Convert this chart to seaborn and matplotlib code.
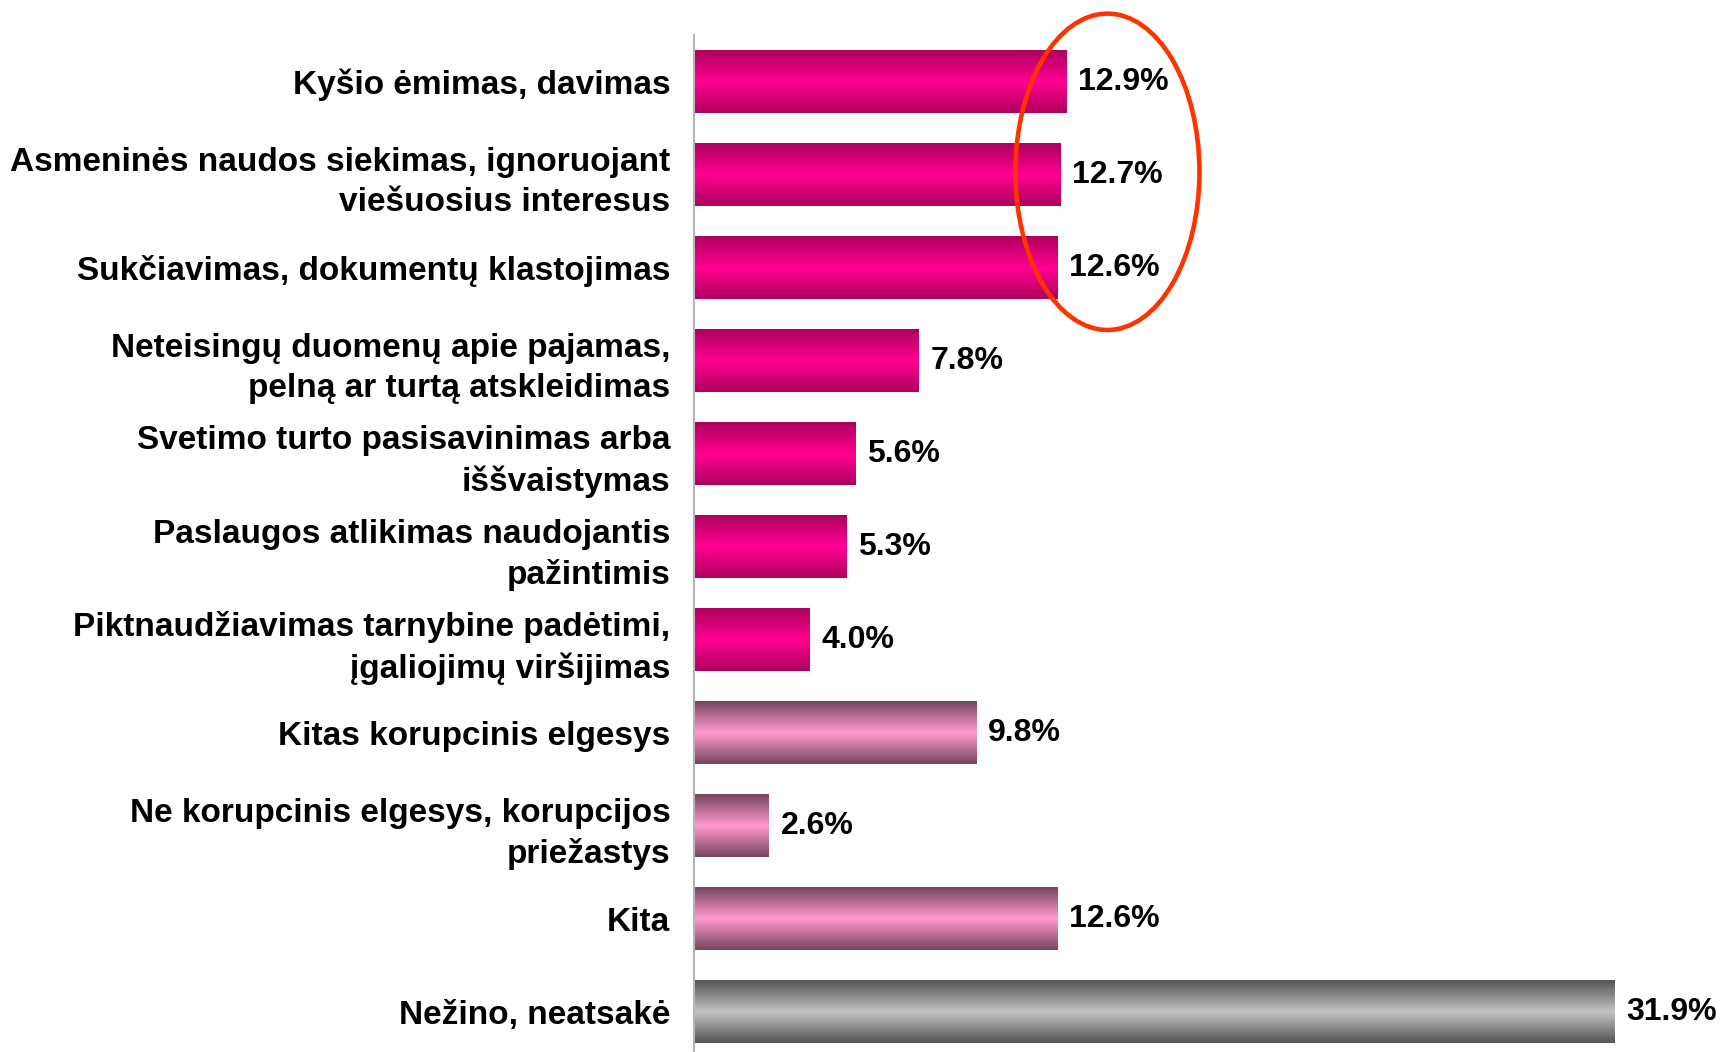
import numpy as np
import pandas as pd
import seaborn as sns
import matplotlib.pyplot as plt
from matplotlib.colors import LinearSegmentedColormap
from matplotlib.patches import Ellipse

categories = [
    "Kyšio ėmimas, davimas",
    "Asmeninės naudos siekimas, ignoruojant\nviešuosius interesus",
    "Sukčiavimas, dokumentų klastojimas",
    "Neteisingų duomenų apie pajamas,\npelną ar turtą atskleidimas",
    "Svetimo turto pasisavinimas arba\niššvaistymas",
    "Paslaugos atlikimas naudojantis\npažintimis",
    "Piktnaudžiavimas tarnybine padėtimi,\nįgaliojimų viršijimas",
    "Kitas korupcinis elgesys",
    "Ne korupcinis elgesys, korupcijos\npriežastys",
    "Kita",
    "Nežino, neatsakė",
]
values = [12.9, 12.7, 12.6, 7.8, 5.6, 5.3, 4.0, 9.8, 2.6, 12.6, 31.9]
groups = ["main"] * 7 + ["other"] * 3 + ["unknown"]

# gradient colours per group: (edge, centre)
grad = {
    "main": ("#AE005E", "#FF0090"),
    "other": ("#77465F", "#FF99CC"),
    "unknown": ("#555555", "#C2C2C2"),
}

sns.set_theme(style="white")
plt.rcParams['font.family'] = ['Liberation Sans', 'DejaVu Sans']

df = pd.DataFrame({"cat": categories, "val": values, "grp": groups})

fig = plt.figure(figsize=(17.21, 10.52), dpi=100)
ax = fig.add_axes([0.4033, 0.0, 0.5967, 0.9667])

sns.barplot(data=df, x="val", y="cat", orient="h", width=0.667,
            color="#FF0090", ax=ax, saturation=1)

ramp = np.concatenate([np.linspace(0, 1, 64), np.linspace(1, 0, 64)]).reshape(-1, 1)
for p, g, v in zip(ax.patches, groups, values):
    x0, y0 = p.get_x(), p.get_y()
    w, h = p.get_width(), p.get_height()
    cmap = LinearSegmentedColormap.from_list(g, list(grad[g]))
    ax.imshow(ramp, cmap=cmap, aspect="auto", interpolation="bilinear",
              extent=[x0, x0 + w, y0 + h, y0], zorder=2)
    p.set_visible(False)
    ax.text(x0 + w + 0.4, y0 + h / 2, f"{v:.1f}%", va="center", ha="left",
            fontsize=23, fontweight="bold", color="black")

ax.set_xlim(0, 35.6)
ax.set_ylim(10.43, -0.5)
ax.set_xlabel("")
ax.set_ylabel("")
ax.set_xticks([])
ax.tick_params(axis="y", length=0, pad=17, labelsize=24, labelcolor="black")
for lab in ax.get_yticklabels():
    lab.set_fontweight("bold")
    lab.set_linespacing(1.37)

for s in ["top", "right", "bottom"]:
    ax.spines[s].set_visible(False)
ax.spines["left"].set_color("#B4B4B4")
ax.spines["left"].set_linewidth(1.5)

# red ellipse highlighting the top three
ax.add_patch(Ellipse((14.33, 0.97), 6.38, 3.40, fill=False,
                     edgecolor="#FF3300", linewidth=3.3, clip_on=False, zorder=5))

fig.savefig("out.png", dpi=100)
